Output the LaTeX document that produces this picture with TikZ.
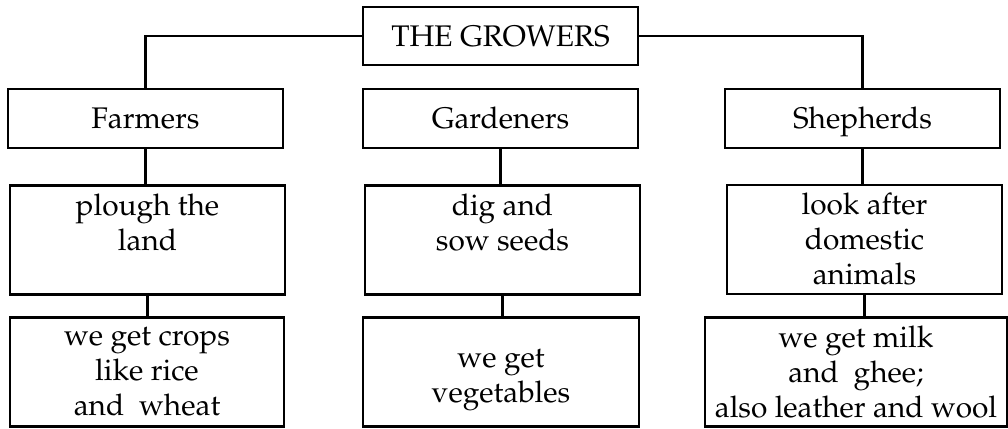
\documentclass[tikz,border=0pt]{standalone}
\usepackage[T1]{fontenc}
\usepackage{mathpazo}
\usetikzlibrary{positioning}

\begin{document}
\begin{tikzpicture}[x=1pt, y=-1pt,
    boxbase/.style={draw, line width=2.2pt, minimum width=275pt,
      inner sep=0pt, align=center, font=\fontsize{29.8}{35}\selectfont},
    headbox/.style={boxbase, minimum height=59pt, text height=20.5pt, text depth=0pt},
    infobox/.style={boxbase, minimum height=109pt},
    link/.style={line width=2.2pt}]
  \useasboundingbox (0,0) rectangle (1008,428);

  % Top box
  \node[headbox, minimum height=58pt] (growers) at (500.5,36) {THE GROWERS};

  % Groups
  \node[headbox] (farmers) at (145.5,118.5) {Farmers};
  \node[headbox] (gardeners) at (500.5,118.5) {Gardeners};
  \node[headbox] (shepherds) at (862.5,118.5) {Shepherds};

  % What they do
  \node[infobox] (plough) at (147.5,240) {plough the\\land\\ \mbox{}};
  \node[infobox] (dig) at (502.5,240) {dig and\\sow seeds\\ \mbox{}};
  \node[infobox] (look) at (864.5,239.5) {look after\\domestic\\animals};

  % What we get
  \node[infobox, minimum width=274pt] (crops) at (147,372) {we get crops\\like rice\\and~ wheat};
  \node[infobox, minimum width=276pt] (veg) at (501,372) {\mbox{}\\we get\\vegetables};
  \node[infobox, minimum width=302pt] (milk) at (856,372) {we get milk\\and~ ghee;\\also leather and wool};

  % Connectors
  \draw[link] (growers.west) -| (farmers.north);
  \draw[link] (growers.east) -| (shepherds.north);
  \draw[link] (farmers.south) -- (farmers.south |- plough.north);
  \draw[link] (gardeners.south) -- (gardeners.south |- dig.north);
  \draw[link] (shepherds.south) -- (shepherds.south |- look.north);
  \draw[link] (plough.south) -- (plough.south |- crops.north);
  \draw[link] (dig.south) -- (dig.south |- veg.north);
  \draw[link] (look.south) -- (look.south |- milk.north);
\end{tikzpicture}
\end{document}
